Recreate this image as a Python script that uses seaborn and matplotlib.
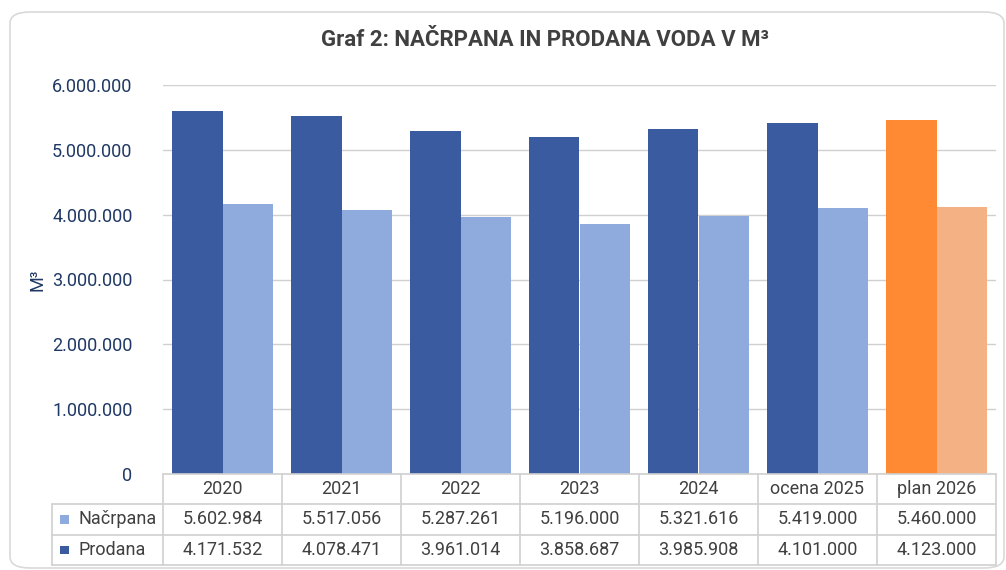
import numpy as np
import pandas as pd
import matplotlib
matplotlib.use("Agg")
import matplotlib.pyplot as plt
import seaborn as sns
from matplotlib.patches import FancyBboxPatch, Rectangle

# podatki
leta = ["2020", "2021", "2022", "2023", "2024", "ocena 2025", "plan 2026"]
nacrpana = [5602984, 5517056, 5287261, 5196000, 5321616, 5419000, 5460000]
prodana = [4171532, 4078471, 3961014, 3858687, 3985908, 4101000, 4123000]
serije = ["Načrpana", "Prodana"]
y_ticks = [0, 1000000, 2000000, 3000000, 4000000, 5000000, 6000000]

dark_blue = "#3a5ba0"
light_blue = "#8faadc"
orange = "#ff8a33"
light_orange = "#f4b183"
navy = "#1f3864"
txt_gray = "#404040"
line_gray = "#d0d0d0"

sns.set_theme(style="white")
plt.rcParams["font.family"] = ["Roboto", "DejaVu Sans"]

def fmt(v):
    return f"{v:,}".replace(",", ".")

df = pd.DataFrame({
    "leto": leta * 2,
    "vrednost": nacrpana + prodana,
    "serija": [serije[0]] * len(leta) + [serije[1]] * len(leta),
})

W, H = 1006, 570
fig = plt.figure(figsize=(W / 100, H / 100), dpi=100)

# kartica
card = FancyBboxPatch((10 / W, 2 / H), 994 / W, 556 / H,
                      boxstyle="round,pad=0,rounding_size=0.02",
                      transform=fig.transFigure, facecolor="none",
                      edgecolor="#d9d9d9", linewidth=1.2, zorder=-1)
fig.patches.append(card)

x0, x1 = 163, 996
ytop, ybot = 85, 474
ax = fig.add_axes([x0 / W, (H - ybot) / H, (x1 - x0) / W, (ybot - ytop) / H])
ax.set_facecolor("none")
sns.barplot(data=df, x="leto", y="vrednost", hue="serija",
            palette=[dark_blue, light_blue], saturation=1, width=0.85,
            linewidth=0, legend=False, ax=ax, zorder=3)
n = len(leta)
ax.patches[n - 1].set_facecolor(orange)
ax.patches[2 * n - 1].set_facecolor(light_orange)

ax.set_ylim(0, 6000000)
ax.set_xlim(-0.5, n - 0.5)
ax.set_yticks(y_ticks)
ax.set_yticklabels([fmt(t) for t in y_ticks], color=navy, fontsize=13)
ax.tick_params(axis="y", length=0, pad=22)
ax.set_xticks([])
ax.set_xlabel("")
ax.set_ylabel("M³", color=navy, fontsize=13, labelpad=4)
ax.grid(axis="y", color=line_gray, linewidth=1, zorder=0)
for s in ax.spines.values():
    s.set_visible(False)

# tabela
tl = 52
lab_w = (x0 - tl) / ((x1 - x0) / n)
axt = fig.add_axes([tl / W, (H - 565) / H, (x1 - tl) / W, (565 - ybot) / H])
axt.set_xlim(-0.5 - lab_w, n - 0.5)
axt.set_ylim(3, 0)
axt.axis("off")
lw = 1.2
# vodoravne crte
axt.plot([-0.5, n - 0.5], [0, 0], color=line_gray, lw=lw, clip_on=False)
for yy in [1, 2, 3]:
    axt.plot([-0.5 - lab_w, n - 0.5], [yy, yy], color=line_gray, lw=lw, clip_on=False)
# navpicne crte
axt.plot([-0.5 - lab_w] * 2, [1, 3], color=line_gray, lw=lw, clip_on=False)
for i in range(n + 1):
    axt.plot([i - 0.5] * 2, [0, 3], color=line_gray, lw=lw, clip_on=False)

for i, l in enumerate(leta):
    axt.text(i, 0.5, l, ha="center", va="center", fontsize=13, color=txt_gray)
    axt.text(i, 1.5, fmt(nacrpana[i]), ha="center", va="center", fontsize=13, color=txt_gray)
    axt.text(i, 2.5, fmt(prodana[i]), ha="center", va="center", fontsize=13, color=txt_gray)

sw = 0.075
for r, (name, col) in enumerate([(serije[0], light_blue), (serije[1], dark_blue)]):
    axt.add_patch(Rectangle((-0.5 - lab_w + 0.065, 1.5 + r - 0.14), sw, 0.28,
                            facecolor=col, edgecolor="none", clip_on=False))
    axt.text(-0.5 - lab_w + 0.22, 1.5 + r, name, ha="left", va="center",
             fontsize=13, color=txt_gray)

fig.text(545 / W, 1 - 40 / H, "Graf 2: NAČRPANA IN PRODANA VODA V M³",
         ha="center", va="center", fontsize=16, fontweight="bold", color="#404040")

fig.savefig("out.png", dpi=100)
